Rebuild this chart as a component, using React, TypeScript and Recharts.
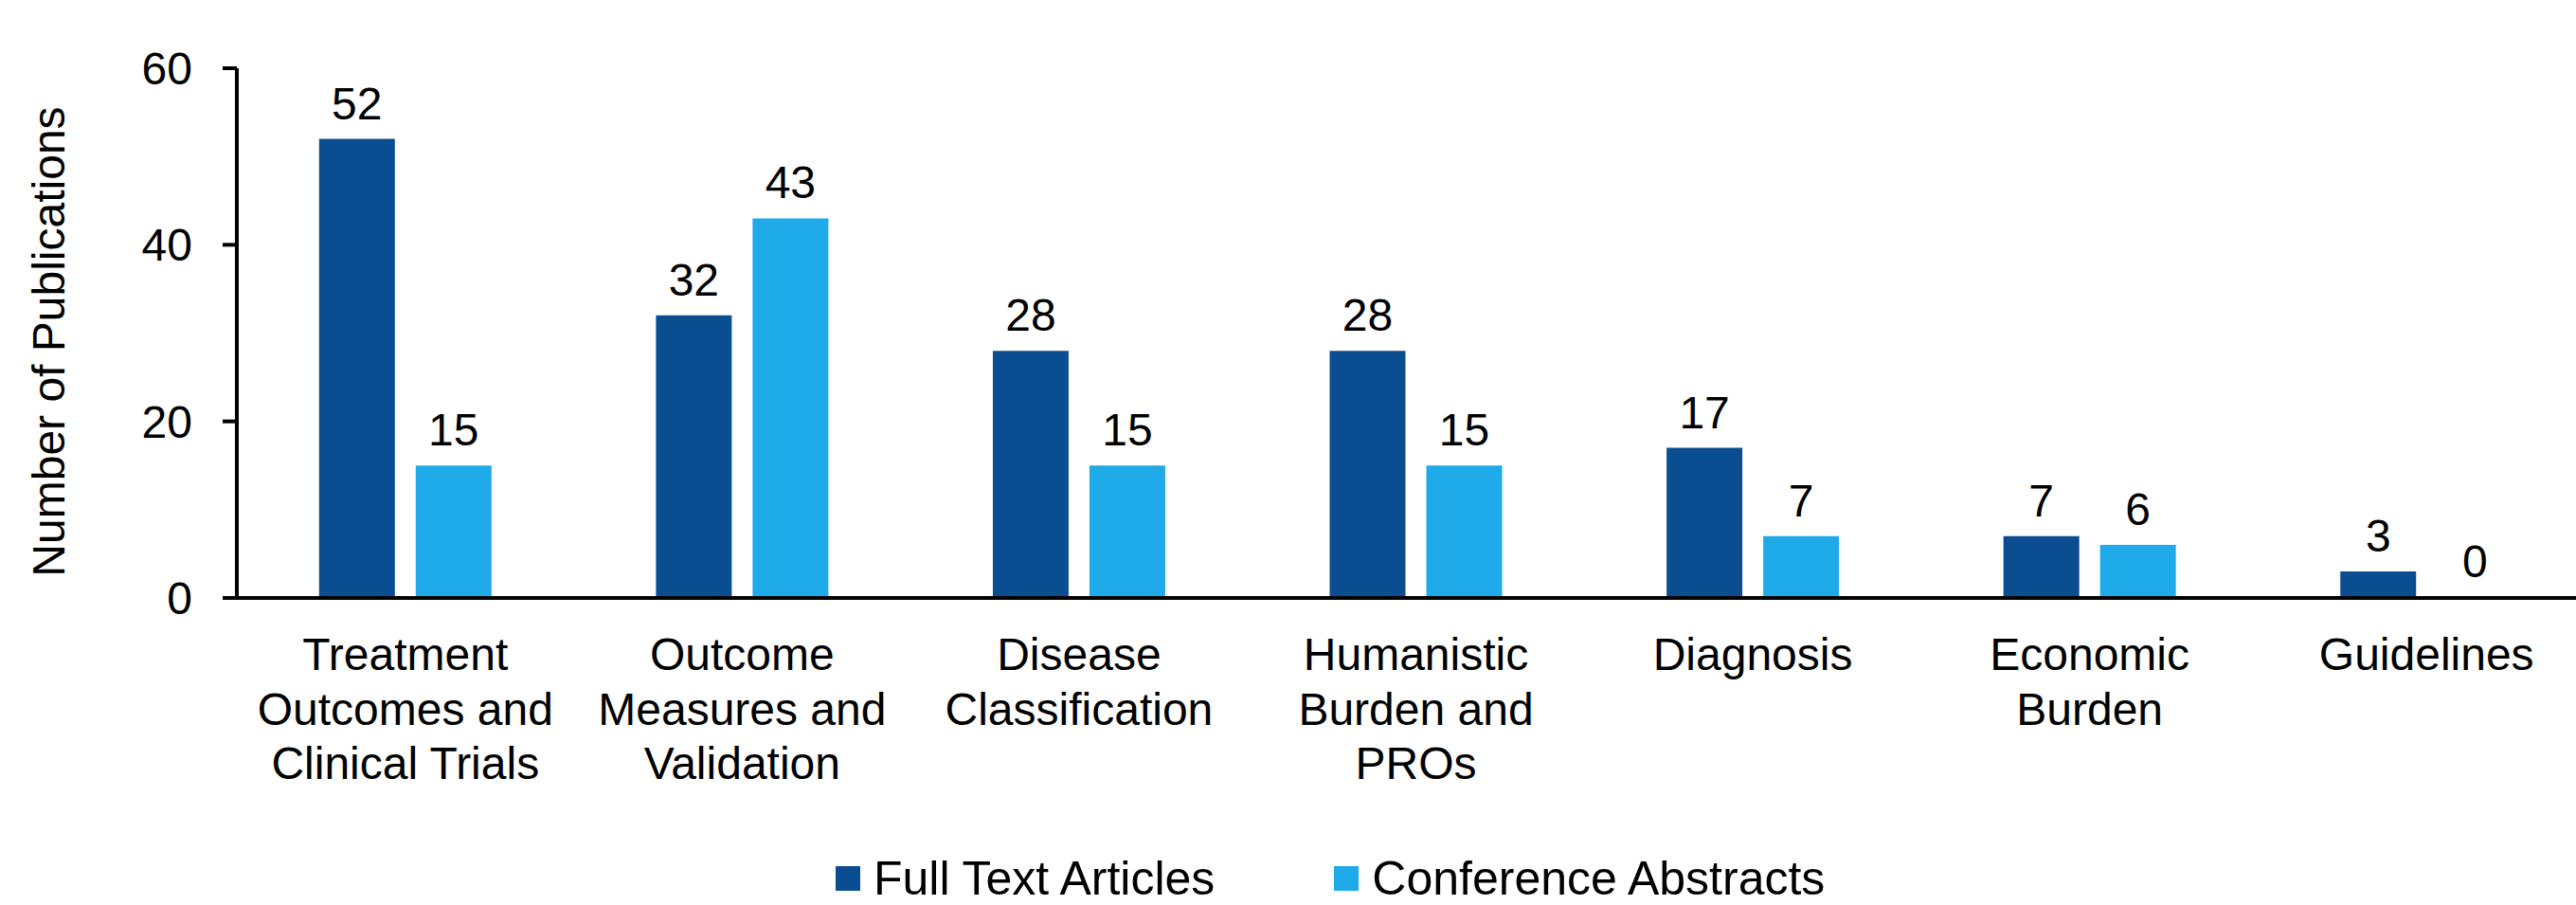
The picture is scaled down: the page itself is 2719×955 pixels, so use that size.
import { BarChart, Bar, XAxis, YAxis, LabelList, Label } from "recharts";

const categories = [
  "Treatment Outcomes and Clinical Trials",
  "Outcome Measures and Validation",
  "Disease Classification",
  "Humanistic Burden and PROs",
  "Diagnosis",
  "Economic Burden",
  "Guidelines",
];

// how each category label wraps under the axis
const tickLines = [
  ["Treatment", "Outcomes and", "Clinical Trials"],
  ["Outcome", "Measures and", "Validation"],
  ["Disease", "Classification"],
  ["Humanistic", "Burden and", "PROs"],
  ["Diagnosis"],
  ["Economic", "Burden"],
  ["Guidelines"],
];

const fullText = [52, 32, 28, 28, 17, 7, 3];
const abstracts = [15, 43, 15, 15, 7, 6, 0];

const yTicks = [0, 20, 40, 60];

const seriesNames = ["Full Text Articles", "Conference Abstracts"];
const seriesColors = ["#0B4D91", "#1FAAE9"];

const FONT = "'Liberation Sans', Arial, sans-serif";

const data = categories.map((name, i) => ({
  name,
  full: fullText[i],
  conf: abstracts[i],
}));

// zero values need a point size so recharts keeps them (and their labels); hidden under the axis line
const zeroPointSize = (v: number) => (v === 0 ? 1 : 0);

function CategoryTick(props: any) {
  const { x, y, payload } = props;
  const idx = categories.indexOf(payload.value);
  const lines = tickLines[idx] || [payload.value];
  return (
    <text x={x} y={y} textAnchor="middle" fontSize={48} fontFamily={FONT} fill="#000">
      {lines.map((line, i) => (
        <tspan key={i} x={x} y={y + 66 + i * 57.6}>
          {line}
        </tspan>
      ))}
    </text>
  );
}

function YTitle(props: any) {
  const { viewBox } = props;
  const cx = viewBox.x + 68;
  const cy = viewBox.y + viewBox.height / 2 + 9;
  return (
    <text
      x={cx}
      y={cy}
      textAnchor="middle"
      fontSize={48}
      fontFamily={FONT}
      fill="#000"
      transform={`rotate(-90, ${cx}, ${cy})`}
    >
      Number of Publications
    </text>
  );
}

function ValueLabel(props: any) {
  const { x, y, width, value } = props;
  if (value === undefined || value === null) return null;
  return (
    <text
      x={Number(x) + Number(width) / 2}
      y={Number(y) - 21}
      textAnchor="middle"
      fontSize={48}
      fontFamily={FONT}
      fill="#000"
    >
      {String(value)}
    </text>
  );
}

export default function App() {
  return (
    <div
      style={{
        position: "absolute",
        left: 0,
        top: 0,
        width: 2719,
        height: 955,
        overflow: "hidden",
        background: "#fff",
      }}
    >
      <BarChart
        width={2745}
        height={955}
        data={data}
        margin={{ top: 72, right: 6, left: 0, bottom: 124 }}
        barCategoryGap={86.8}
        barGap={22}
      >
        <Bar
          dataKey="full"
          name={seriesNames[0]}
          fill={seriesColors[0]}
          minPointSize={zeroPointSize}
          isAnimationActive={false}
        >
          <LabelList dataKey="full" content={<ValueLabel />} />
        </Bar>
        <Bar
          dataKey="conf"
          name={seriesNames[1]}
          fill={seriesColors[1]}
          minPointSize={zeroPointSize}
          isAnimationActive={false}
        >
          <LabelList dataKey="conf" content={<ValueLabel />} />
        </Bar>
        <XAxis
          dataKey="name"
          axisLine={{ stroke: "#000", strokeWidth: 4 }}
          tickLine={false}
          tickSize={0}
          tickMargin={10}
          height={200}
          interval={0}
          tick={<CategoryTick />}
        />
        <YAxis
          domain={[0, 60]}
          ticks={yTicks}
          width={250}
          axisLine={{ stroke: "#000", strokeWidth: 4 }}
          tickLine={{ stroke: "#000", strokeWidth: 4 }}
          tickSize={15}
          tickMargin={32}
          tick={{ fontSize: 48, fontFamily: FONT, fill: "#000" }}
        >
          <Label content={<YTitle />} />
        </YAxis>
      </BarChart>

      <div
        style={{
          position: "absolute",
          left: 882,
          top: 899,
          height: 56,
          display: "flex",
          alignItems: "center",
          gap: 126,
          fontFamily: FONT,
          fontSize: 50,
          lineHeight: "56px",
          color: "#000",
          whiteSpace: "nowrap",
        }}
      >
        {seriesNames.map((n, i) => (
          <div key={n} style={{ display: "flex", alignItems: "center" }}>
            <span
              style={{
                display: "inline-block",
                width: 26,
                height: 26,
                background: seriesColors[i],
                marginRight: 14,
              }}
            />
            <span>{n}</span>
          </div>
        ))}
      </div>
    </div>
  );
}
